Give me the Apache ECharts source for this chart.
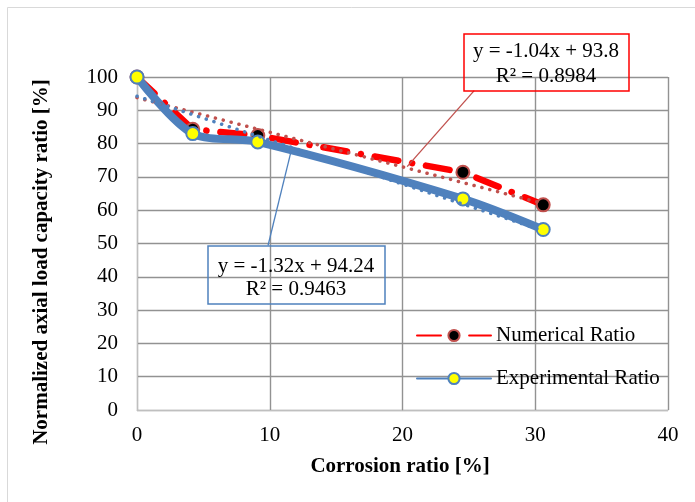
<!DOCTYPE html>
<html>
<head>
<meta charset="utf-8">
<script src="https://cdn.jsdelivr.net/npm/echarts@6/dist/echarts.min.js"></script>
<style>
html,body{margin:0;padding:0;background:#fff;}
#chart{width:695px;height:502px;}
</style>
</head>
<body>
<div id="chart"></div>
<script>
// ---- data ----
const corrosion = [0, 4.2, 9.1, 24.55, 30.6];
const numericalRatio = [100, 84.3, 82.4, 71.4, 61.6];
const experimentalRatio = [100, 83.0, 80.5, 63.4, 54.2];
const numTrendX = [0, 30.6];
const numTrendY = [93.8, 62.0];
const expTrendX = [0, 30.6];
const expTrendY = [94.24, 53.85];
const numLeaderX = [25.4, 20.35];
const numLeaderY = [95.9, 73.1];
const expLeaderX = [9.87, 11.6];
const expLeaderY = [49.4, 77.6];
const xTicks = [0, 10, 20, 30, 40];
const yTicks = [0, 10, 20, 30, 40, 50, 60, 70, 80, 90, 100];
const numEq = ['y = -1.04x + 93.8', 'R² = 0.8984'];
const expEq = ['y = -1.32x + 94.24', 'R² = 0.9463'];
const seriesNames = ['Numerical Ratio', 'Experimental Ratio'];
const xTitle = 'Corrosion ratio [%]';
const yTitle = 'Normalized axial load capacity ratio [%]';

const zip = (a, b) => a.map((v, i) => [v, b[i]]);
const FONT = "'Liberation Serif','Times New Roman',serif";
const FS = 21;
const BLUE = '#4F81BD';
const RED = '#FF0000';
const BROWN = '#C0504D';

const chart = echarts.init(document.getElementById('chart'), null, {renderer: 'canvas'});
const option = {
  backgroundColor: '#fff',
  animation: false,
  grid: {left: 137, right: 27, top: 77, bottom: 92, containLabel: false},
  xAxis: {
    type: 'value', min: xTicks[0], max: xTicks[xTicks.length - 1], interval: 10,
    axisLine: {show: true, lineStyle: {color: '#BFBFBF', width: 1}},
    axisTick: {show: false},
    splitLine: {show: true, lineStyle: {color: '#929292', width: 1.4}},
    axisLabel: {color: '#000', fontFamily: FONT, fontSize: FS, margin: 15}
  },
  yAxis: {
    type: 'value', min: yTicks[0], max: yTicks[yTicks.length - 1], interval: 10,
    axisLine: {show: true, lineStyle: {color: '#BFBFBF', width: 1}},
    axisTick: {show: false},
    splitLine: {show: true, lineStyle: {color: '#929292', width: 1.4}},
    axisLabel: {color: '#000', fontFamily: FONT, fontSize: FS, margin: 19}
  },
  legend: {
    data: seriesNames,
    orient: 'vertical',
    left: 411, top: 320,
    itemWidth: 74, itemHeight: 14, itemGap: 22,
    textStyle: {fontFamily: FONT, fontSize: FS, color: '#000'},
    selectedMode: false
  },
  series: [
    {
      name: seriesNames[0], type: 'line', data: zip(corrosion, numericalRatio),
      z: 2,
      lineStyle: {color: RED, width: 6.5, type: [24, 14, 0.1, 14], cap: 'round'},
      itemStyle: {color: '#000', borderColor: BROWN, borderWidth: 2},
      symbol: 'circle', symbolSize: 13, showSymbol: true
    },
    {
      name: seriesNames[1], type: 'line', data: zip(corrosion, experimentalRatio),
      z: 3, smooth: 0.3,
      lineStyle: {color: BLUE, width: 8, cap: 'round'},
      itemStyle: {color: '#FFFF00', borderColor: BLUE, borderWidth: 2},
      symbol: 'circle', symbolSize: 13, showSymbol: true
    },
    {
      name: 'numTrend', type: 'line', data: zip(numTrendX, numTrendY), z: 4,
      symbol: 'none', silent: true,
      lineStyle: {color: BROWN, width: 3.5, type: [0.1, 8], cap: 'round'}
    },
    {
      name: 'expTrend', type: 'line', data: zip(expTrendX, expTrendY), z: 4,
      symbol: 'none', silent: true,
      lineStyle: {color: BLUE, width: 3.5, type: [0.1, 8], cap: 'round'}
    },
    {
      name: 'numLeader', type: 'line', data: zip(numLeaderX, numLeaderY), z: 5,
      symbol: 'none', silent: true,
      lineStyle: {color: BROWN, width: 1.3}
    },
    {
      name: 'expLeader', type: 'line', data: zip(expLeaderX, expLeaderY), z: 5,
      symbol: 'none', silent: true,
      lineStyle: {color: BLUE, width: 1.3}
    }
  ],
  graphic: [
    {type: 'rect', left: 5, top: 5, silent: true, z: -1,
     shape: {width: 689, height: 495}, style: {fill: 'none', stroke: '#D9D9D9', lineWidth: 1}},
    {type: 'text', x: 42, y: 262, rotation: Math.PI / 2, z: 10,
     style: {text: yTitle, fontFamily: FONT, fontSize: FS, fontWeight: 'bold', fill: '#000',
             align: 'center', verticalAlign: 'middle'}},
    {type: 'text', x: 400, y: 467, z: 10,
     style: {text: xTitle, fontFamily: FONT, fontSize: FS, fontWeight: 'bold', fill: '#000',
             align: 'center', verticalAlign: 'middle'}},
    {type: 'rect', shape: {x: 464, y: 34, width: 165, height: 57}, z: 10,
     style: {fill: 'none', stroke: RED, lineWidth: 1.5}},
    {type: 'text', x: 546, y: 51, z: 10,
     style: {text: numEq[0], fontFamily: FONT, fontSize: FS, fill: '#000', align: 'center', verticalAlign: 'middle'}},
    {type: 'text', x: 546, y: 76, z: 10,
     style: {text: numEq[1], fontFamily: FONT, fontSize: FS, fill: '#000', align: 'center', verticalAlign: 'middle'}},
    {type: 'rect', shape: {x: 208, y: 246, width: 177, height: 58}, z: 10,
     style: {fill: 'none', stroke: BLUE, lineWidth: 1.5}},
    {type: 'text', x: 296, y: 266, z: 10,
     style: {text: expEq[0], fontFamily: FONT, fontSize: FS, fill: '#000', align: 'center', verticalAlign: 'middle'}},
    {type: 'text', x: 296, y: 289, z: 10,
     style: {text: expEq[1], fontFamily: FONT, fontSize: FS, fill: '#000', align: 'center', verticalAlign: 'middle'}}
  ]
};
chart.setOption(option);
</script>
</body>
</html>
